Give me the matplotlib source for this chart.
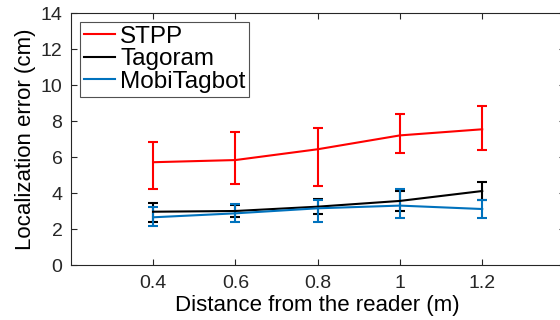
import matplotlib
matplotlib.use('Agg')
import matplotlib.pyplot as plt
from matplotlib.lines import Line2D

plt.rcParams['font.family'] = ['Liberation Sans', 'DejaVu Sans']

distancia = [0.4, 0.6, 0.8, 1.0, 1.2]

stpp = [5.71, 5.83, 6.43, 7.20, 7.54]
stpp_inf = [4.22, 4.50, 4.39, 6.20, 6.41]
stpp_sup = [6.82, 7.41, 7.61, 8.41, 8.81]

tagoram = [2.96, 3.00, 3.24, 3.56, 4.11]
tagoram_inf = [2.37, 2.65, 2.81, 3.00, 3.62]
tagoram_sup = [3.43, 3.35, 3.67, 4.12, 4.59]

mobi = [2.65, 2.87, 3.15, 3.30, 3.11]
mobi_inf = [2.19, 2.41, 2.41, 2.61, 2.61]
mobi_sup = [3.24, 3.39, 3.61, 4.22, 3.61]

series = [
    ('STPP', stpp, stpp_inf, stpp_sup, '#ff0000'),
    ('Tagoram', tagoram, tagoram_inf, tagoram_sup, '#000000'),
    ('MobiTagbot', mobi, mobi_inf, mobi_sup, '#0072bd'),
]

fig = plt.figure(figsize=(5.6, 3.2), dpi=100)
ax = fig.add_axes([70.75 / 560, 55 / 320, 493.75 / 560, 252 / 320])

handles = []
for nombre, y, inf, sup, color in series:
    err = [[v - a for v, a in zip(y, inf)], [b - v for v, b in zip(y, sup)]]
    ax.errorbar(distancia, y, yerr=err, color=color, lw=1.5, elinewidth=1.5,
                capsize=3.5, capthick=1.5)
    handles.append(Line2D([], [], color=color, lw=1.5, label=nombre))

ax.set_xlim(0.2, 1.4)
ax.set_ylim(0, 14)
ax.set_xticks(distancia)
ax.set_xticklabels(['0.4', '0.6', '0.8', '1', '1.2'])
ax.set_yticks(range(0, 15, 2))
ax.tick_params(direction='in', top=True, right=True, length=4, width=0.8,
               labelsize=14, colors='#262626', labelcolor='#262626')
ax.tick_params(axis='x', pad=7)
ax.tick_params(axis='y', pad=6)
for s in ax.spines.values():
    s.set_color('#262626')
    s.set_linewidth(0.8)

ax.set_xlabel('Distance from the reader (m)', fontsize=16, labelpad=2)
ax.set_ylabel('Localization error (cm)', fontsize=16, labelpad=3)

leg = ax.legend(handles=handles, loc='upper left', fontsize=17.5, frameon=True,
                fancybox=False, edgecolor='#262626', handlelength=1.3,
                handletextpad=0.2, borderpad=0.15, labelspacing=0.02,
                borderaxespad=0.38)
leg.get_frame().set_linewidth(0.8)

fig.savefig('out.png', dpi=100, facecolor='white')
